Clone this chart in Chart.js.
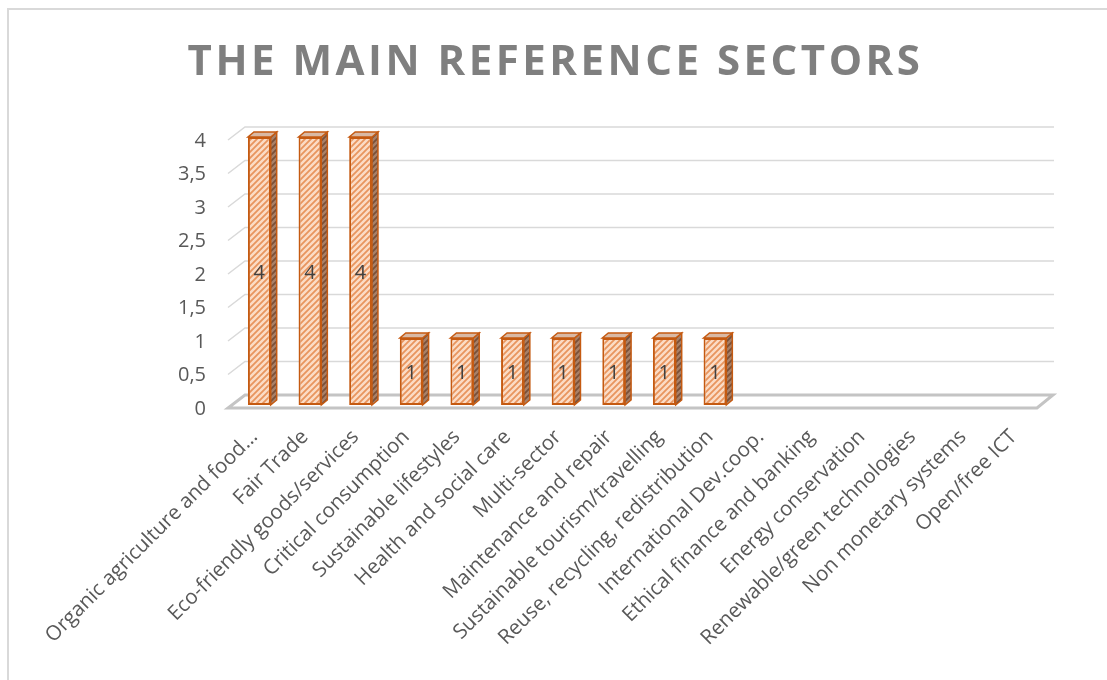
<!DOCTYPE html>
<html>
<head>
<meta charset="utf-8">
<title>The main reference sectors</title>
<style>
  body { margin: 0; background: #fff; overflow: hidden; }
  #wrap { position: relative; width: 1107px; height: 680px; overflow: hidden; }
  #frame { position: absolute; left: 7px; top: 8px; width: 1200px; height: 800px; border: 2px solid #d9d9d9; pointer-events: none; }
</style>
</head>
<body>
<div id="wrap">
  <canvas id="myChart"></canvas>
  <div id="frame"></div>
</div>
<script src="https://cdn.jsdelivr.net/npm/chart.js@4/dist/chart.umd.min.js"></script>
<script>
var categories = ["Organic agriculture and food…", "Fair Trade", "Eco-friendly goods/services",
  "Critical consumption", "Sustainable lifestyles", "Health and social care", "Multi-sector",
  "Maintenance and repair", "Sustainable tourism/travelling", "Reuse, recycling, redistribution",
  "International Dev.coop.", "Ethical finance and banking", "Energy conservation",
  "Renewable/green technologies", "Non monetary systems", "Open/free ICT"];
var counts = [4, 4, 4, 1, 1, 1, 1, 1, 1, 1, 0, 0, 0, 0, 0, 0];
var yTickLabels = ["0", "0,5", "1", "1,5", "2", "2,5", "3", "3,5", "4"];

// diagonal hatch like the excel fill
function hatch(bg, line) {
    var c = document.createElement('canvas');
    c.width = 6; c.height = 6;
    var g = c.getContext('2d');
    g.fillStyle = bg;
    g.fillRect(0, 0, 6, 6);
    g.strokeStyle = line;
    g.lineWidth = 1.8;
    g.beginPath();
    g.moveTo(-1, 7); g.lineTo(7, -1);
    g.moveTo(-4, 4); g.lineTo(4, -4);
    g.moveTo(2, 10); g.lineTo(10, 2);
    g.stroke();
    return g.createPattern(c, 'repeat');
}

var ctx = document.getElementById('myChart').getContext('2d');
var frontFill = hatch('#fbdcc6', '#e8955e');
var sideFill = hatch('#a88068', '#7a5038');
var lift = 3;

var wallFloor = {
    id: 'wallFloor',
    beforeDatasetsDraw: function(chart) {
        var c = chart.ctx, a = chart.chartArea, y = chart.scales.y;
        var fl = a.left - 6, fr = a.right - 7;
        c.save();
        c.strokeStyle = '#d9d9d9';
        c.lineWidth = 1.5;
        y.ticks.forEach(function(t) {
            if (t.value === 0) return;
            var yy = y.getPixelForValue(t.value) + lift;
            c.beginPath();
            c.moveTo(fl, yy);
            c.lineTo(fl + 17, yy - 13);
            c.lineTo(fr + 17, yy - 13);
            c.stroke();
        });
        var y0 = y.getPixelForValue(0) + lift;
        c.strokeStyle = '#c4c4c4';
        c.lineWidth = 3;
        c.beginPath();
        c.moveTo(fl, y0);
        c.lineTo(fr, y0);
        c.lineTo(fr + 16, y0 - 13);
        c.lineTo(fl + 17, y0 - 13);
        c.closePath();
        c.stroke();
        c.restore();
    }
};

var boxes3d = {
    id: 'boxes3d',
    afterDatasetsDraw: function(chart) {
        var c = chart.ctx;
        var meta = chart.getDatasetMeta(0);
        c.save();
        meta.data.forEach(function(bar, i) {
            if (!counts[i]) return;
            var p = bar.getProps(['x', 'y', 'base', 'width'], true);
            var xl = p.x - p.width / 2, xr = p.x + p.width / 2;
            var d = 6, u = 5;
            c.lineWidth = 1.5;
            c.strokeStyle = '#c55a11';
            // side
            c.beginPath();
            c.moveTo(xr, p.y); c.lineTo(xr + d, p.y - u); c.lineTo(xr + d, p.base - u); c.lineTo(xr, p.base);
            c.closePath();
            c.fillStyle = sideFill; c.fill(); c.stroke();
            // top
            c.beginPath();
            c.moveTo(xl, p.y); c.lineTo(xl + d, p.y - u); c.lineTo(xr + d, p.y - u); c.lineTo(xr, p.y);
            c.closePath();
            c.fillStyle = '#d9b9a4'; c.fill(); c.stroke();
            // value label
            c.fillStyle = '#404040';
            c.font = '20px "Open Sans"';
            c.textAlign = 'center';
            c.textBaseline = 'middle';
            c.fillText(String(counts[i]), p.x, (p.y + p.base) / 2 + 2);
        });
        c.restore();
    }
};

// excel title is letter spaced and centred on the whole chart
var spacedTitle = {
    id: 'spacedTitle',
    afterInit: function(chart) {
        var tb = chart.titleBlock;
        if (!tb) return;
        var orig = tb.draw.bind(tb);
        tb.draw = function() {
            var c = chart.ctx;
            c.save();
            c.letterSpacing = '3.5px';
            c.translate(chart.width / 2 - (tb.left + tb.right) / 2 + 2, 0);
            orig();
            c.restore();
        };
    }
};

var chart = new Chart(ctx, {
    type: 'bar',
    data: {
        labels: categories,
        datasets: [{
            label: 'Sectors',
            data: counts,
            backgroundColor: frontFill,
            borderColor: '#c55a11',
            borderWidth: 2,
            borderSkipped: false,
            barPercentage: 0.45,
            categoryPercentage: 1
        }]
    },
    options: {
        responsive: true,
        maintainAspectRatio: false,
        animation: false,
        layout: { padding: { left: 0, right: 63, top: 0, bottom: 0 } },
        plugins: {
            legend: { display: false },
            tooltip: { enabled: false },
            title: {
                display: true,
                text: 'THE MAIN REFERENCE SECTORS',
                color: '#7f7f7f',
                font: { family: 'Open Sans', size: 42, weight: 'bold', lineHeight: 1.2 },
                padding: { top: 38, bottom: 48.6 }
            }
        },
        scales: {
            x: {
                grid: { display: false, drawTicks: false },
                border: { display: false },
                ticks: {
                    autoSkip: false,
                    maxRotation: 45,
                    minRotation: 45,
                    padding: 20,
                    labelOffset: -5,
                    color: '#595959',
                    font: { family: 'Open Sans', size: 20.5 }
                },
                afterFit: function(s) { s.height = 275; }
            },
            y: {
                min: 0,
                max: 4,
                grid: { display: false, drawTicks: false },
                border: { display: false },
                ticks: {
                    stepSize: 0.5,
                    padding: 28,
                    labelOffset: 4,
                    color: '#595959',
                    font: { family: 'Open Sans', size: 20 },
                    callback: function(v, i) { return yTickLabels[i]; }
                },
                afterFit: function(s) { s.width = 234; }
            }
        }
    },
    plugins: [wallFloor, boxes3d, spacedTitle]
});
</script>
</body>
</html>
